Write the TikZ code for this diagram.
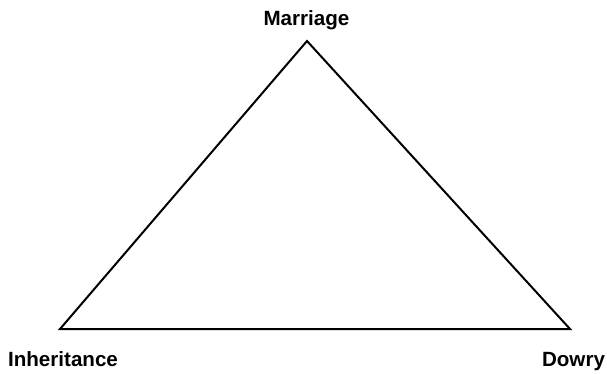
\documentclass[tikz,border=0pt]{standalone}
\usepackage{fontspec}
\setmainfont{Liberation Sans}
\begin{document}
\begin{tikzpicture}[x=1pt,y=1pt,
  lbl/.style={font=\fontsize{20.6}{24}\selectfont\bfseries, anchor=base, inner sep=0pt},
  edge/.style={line width=2pt, line join=miter}]
\useasboundingbox (0,0) rectangle (607,373);
\coordinate (m) at (307,332);
\coordinate (i) at (60,44);
\coordinate (d) at (570,44);
\draw[edge] (m) -- (i) -- (d) -- cycle;
\node[lbl] (lm) at (306.5,347) {Marriage};
\node[lbl] (li) at (63,7) {Inheritance};
\node[lbl] (ld) at (573.5,7) {Dowry};
\end{tikzpicture}
\end{document}
